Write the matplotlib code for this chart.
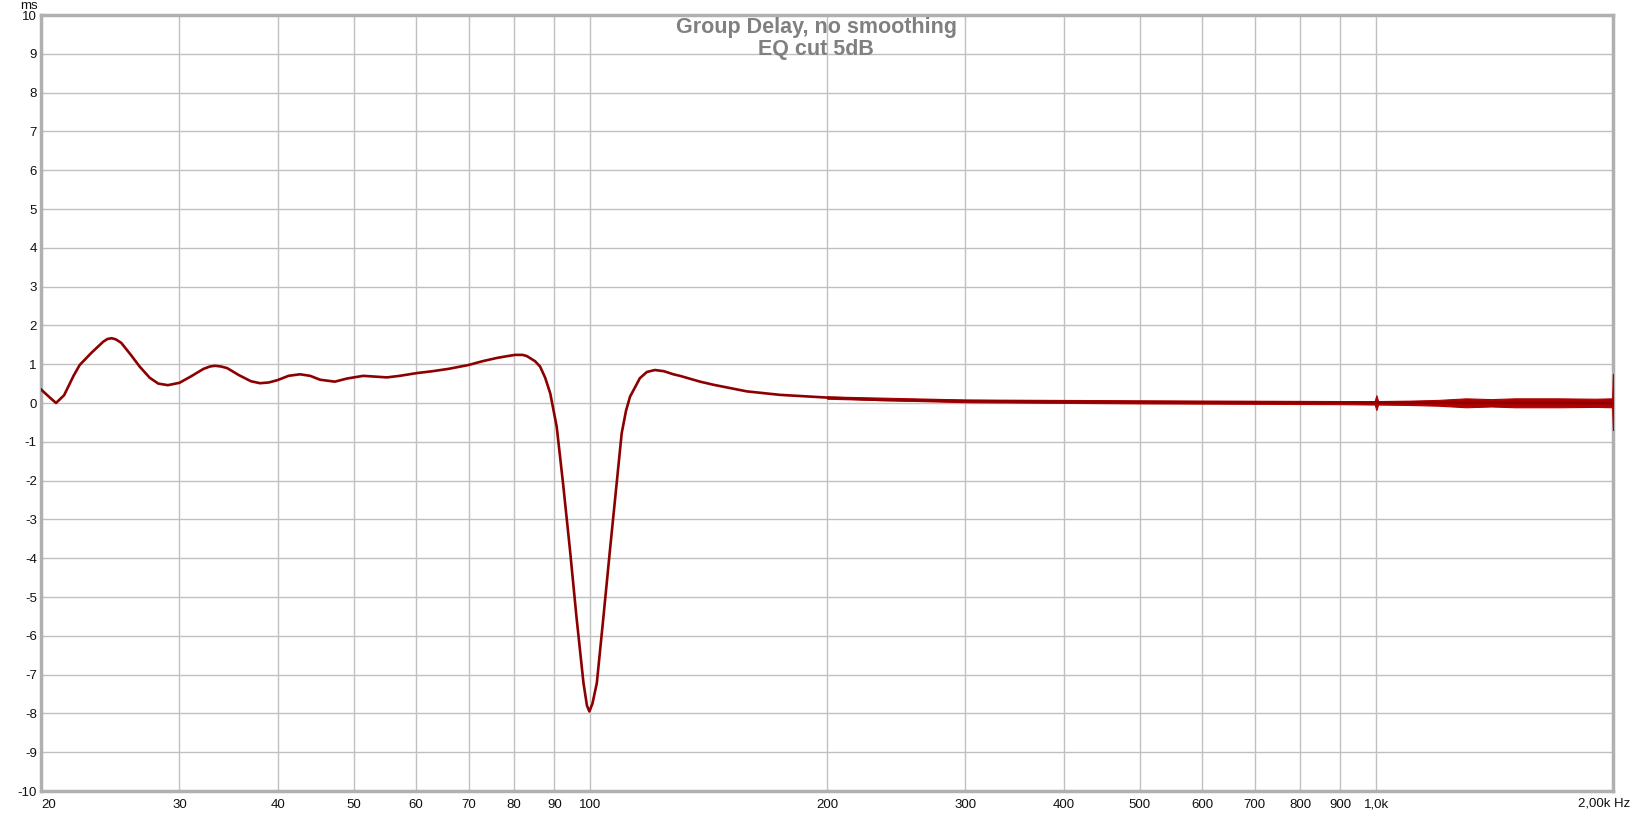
import matplotlib
matplotlib.use("Agg")
import matplotlib.pyplot as plt
import numpy as np

plt.rcParams['font.family'] = ['Liberation Sans', 'DejaVu Sans']

# group delay (Hz, ms)
freq = [20.0, 20.5, 20.9, 21.4, 22.0, 22.4, 23.2, 24.0, 24.3, 24.6, 24.9, 25.3, 26.0,
        26.7, 27.5, 28.2, 29.0, 30.0, 31.0, 32.2, 32.8, 33.3, 33.9, 34.5, 35.7, 37.0,
        38.0, 39.0, 40.0, 41.3, 42.7, 44.0, 45.3, 47.3, 49.0, 51.4, 55.1, 57.2, 60.1,
        63.0, 66.0, 70.0, 73.0, 76.0, 78.5, 80.2, 82.0, 83.0, 85.0, 86.3, 87.6, 88.9,
        90.6, 92.3, 94.2, 96.0, 98.0, 99.0, 99.7, 100.6, 101.9, 103.9, 105.9, 108.0,
        109.6, 111.0, 112.3, 115.6, 118.0, 120.8, 124.0, 127.5, 130.0, 137.9, 143.4,
        158.1, 174.2, 200.0, 233.6, 299.7, 400.0, 500.0, 1000.0, 2000.0]
delay = [0.35, 0.15, 0.00, 0.20, 0.70, 0.98, 1.30, 1.58, 1.65, 1.67, 1.64, 1.55, 1.25,
         0.94, 0.65, 0.50, 0.46, 0.52, 0.68, 0.88, 0.94, 0.96, 0.94, 0.90, 0.72, 0.56,
         0.51, 0.53, 0.59, 0.70, 0.74, 0.70, 0.60, 0.55, 0.63, 0.70, 0.66, 0.70, 0.77,
         0.82, 0.88, 0.98, 1.08, 1.16, 1.21, 1.24, 1.24, 1.21, 1.08, 0.94, 0.65, 0.25,
         -0.61, -2.07, -3.79, -5.51, -7.22, -7.80, -7.95, -7.75, -7.22, -5.51, -3.79, -2.07,
         -0.78, -0.20, 0.16, 0.64, 0.80, 0.85, 0.82, 0.74, 0.70, 0.55, 0.47,
         0.30, 0.21, 0.14, 0.08, 0.05, 0.03, 0.02, 0.01, 0.0]

# spread of the measurement noise above/below the trace (ms)
noise_freq = [200, 300, 500, 900, 995, 1000, 1005, 1100, 1200, 1300, 1400, 1500,
              1700, 1900, 1995, 2000]
noise_hi = [0.17, 0.09, 0.07, 0.05, 0.05, 0.20, 0.05, 0.06, 0.08, 0.12, 0.10, 0.12,
            0.12, 0.11, 0.12, 0.75]
noise_lo = [0.11, 0.02, -0.01, -0.03, -0.04, -0.18, -0.04, -0.05, -0.07, -0.11, -0.09,
            -0.11, -0.11, -0.10, -0.11, -0.70]

xticks = [20, 30, 40, 50, 60, 70, 80, 90, 100, 200, 300, 400, 500, 600, 700, 800,
          900, 1000]
xlabels = ['20', '30', '40', '50', '60', '70', '80', '90', '100', '200', '300', '400',
           '500', '600', '700', '800', '900', '1,0k']
yticks = list(range(-10, 11))

fig = plt.figure(figsize=(16.32, 8.13), dpi=100)
ax = fig.add_axes([41 / 1632, 22 / 813, 1572 / 1632, 776 / 813])

ax.fill_between(noise_freq, noise_lo, noise_hi, color='#b00000', lw=0.8, zorder=3)
ax.plot(freq, delay, color='#8c0000', lw=1.9, zorder=4)

ax.set_xscale('log')
ax.set_xlim(20, 2000)
ax.set_ylim(-10, 10)
ax.set_xticks(xticks + [2000])
ax.set_xticklabels(xlabels + [''])
ax.xaxis.set_minor_locator(matplotlib.ticker.NullLocator())
ax.set_yticks(yticks)
ax.set_yticklabels([str(v) for v in yticks])
ax.tick_params(length=0, labelsize=9.5, colors='#101010', pad=3)
ax.tick_params(axis='x', pad=5.5)
ax.get_xticklabels()[0].set_horizontalalignment('left')
ax.grid(True, color='#c0c0c0', lw=1)
ax.set_axisbelow(True)
for s in ax.spines.values():
    s.set_color('#b0b0b0')
    s.set_linewidth(2.5)

fig.text(1578 / 1632, 1 - 803 / 813, '2,00k Hz', fontsize=9.5, color='#101010',
         ha='left', va='center')
fig.text(29 / 1632, 1 - 6 / 813, 'ms', fontsize=9.5, color='#101010',
         ha='center', va='center')
fig.text(816 / 1632, 1 - 27 / 813, 'Group Delay, no smoothing', fontsize=15.5,
         fontweight='bold', color='#808080', ha='center', va='center')
fig.text(816 / 1632, 1 - 49 / 813, 'EQ cut 5dB', fontsize=15.5,
         fontweight='bold', color='#808080', ha='center', va='center')

fig.savefig('out.png', dpi=100)
